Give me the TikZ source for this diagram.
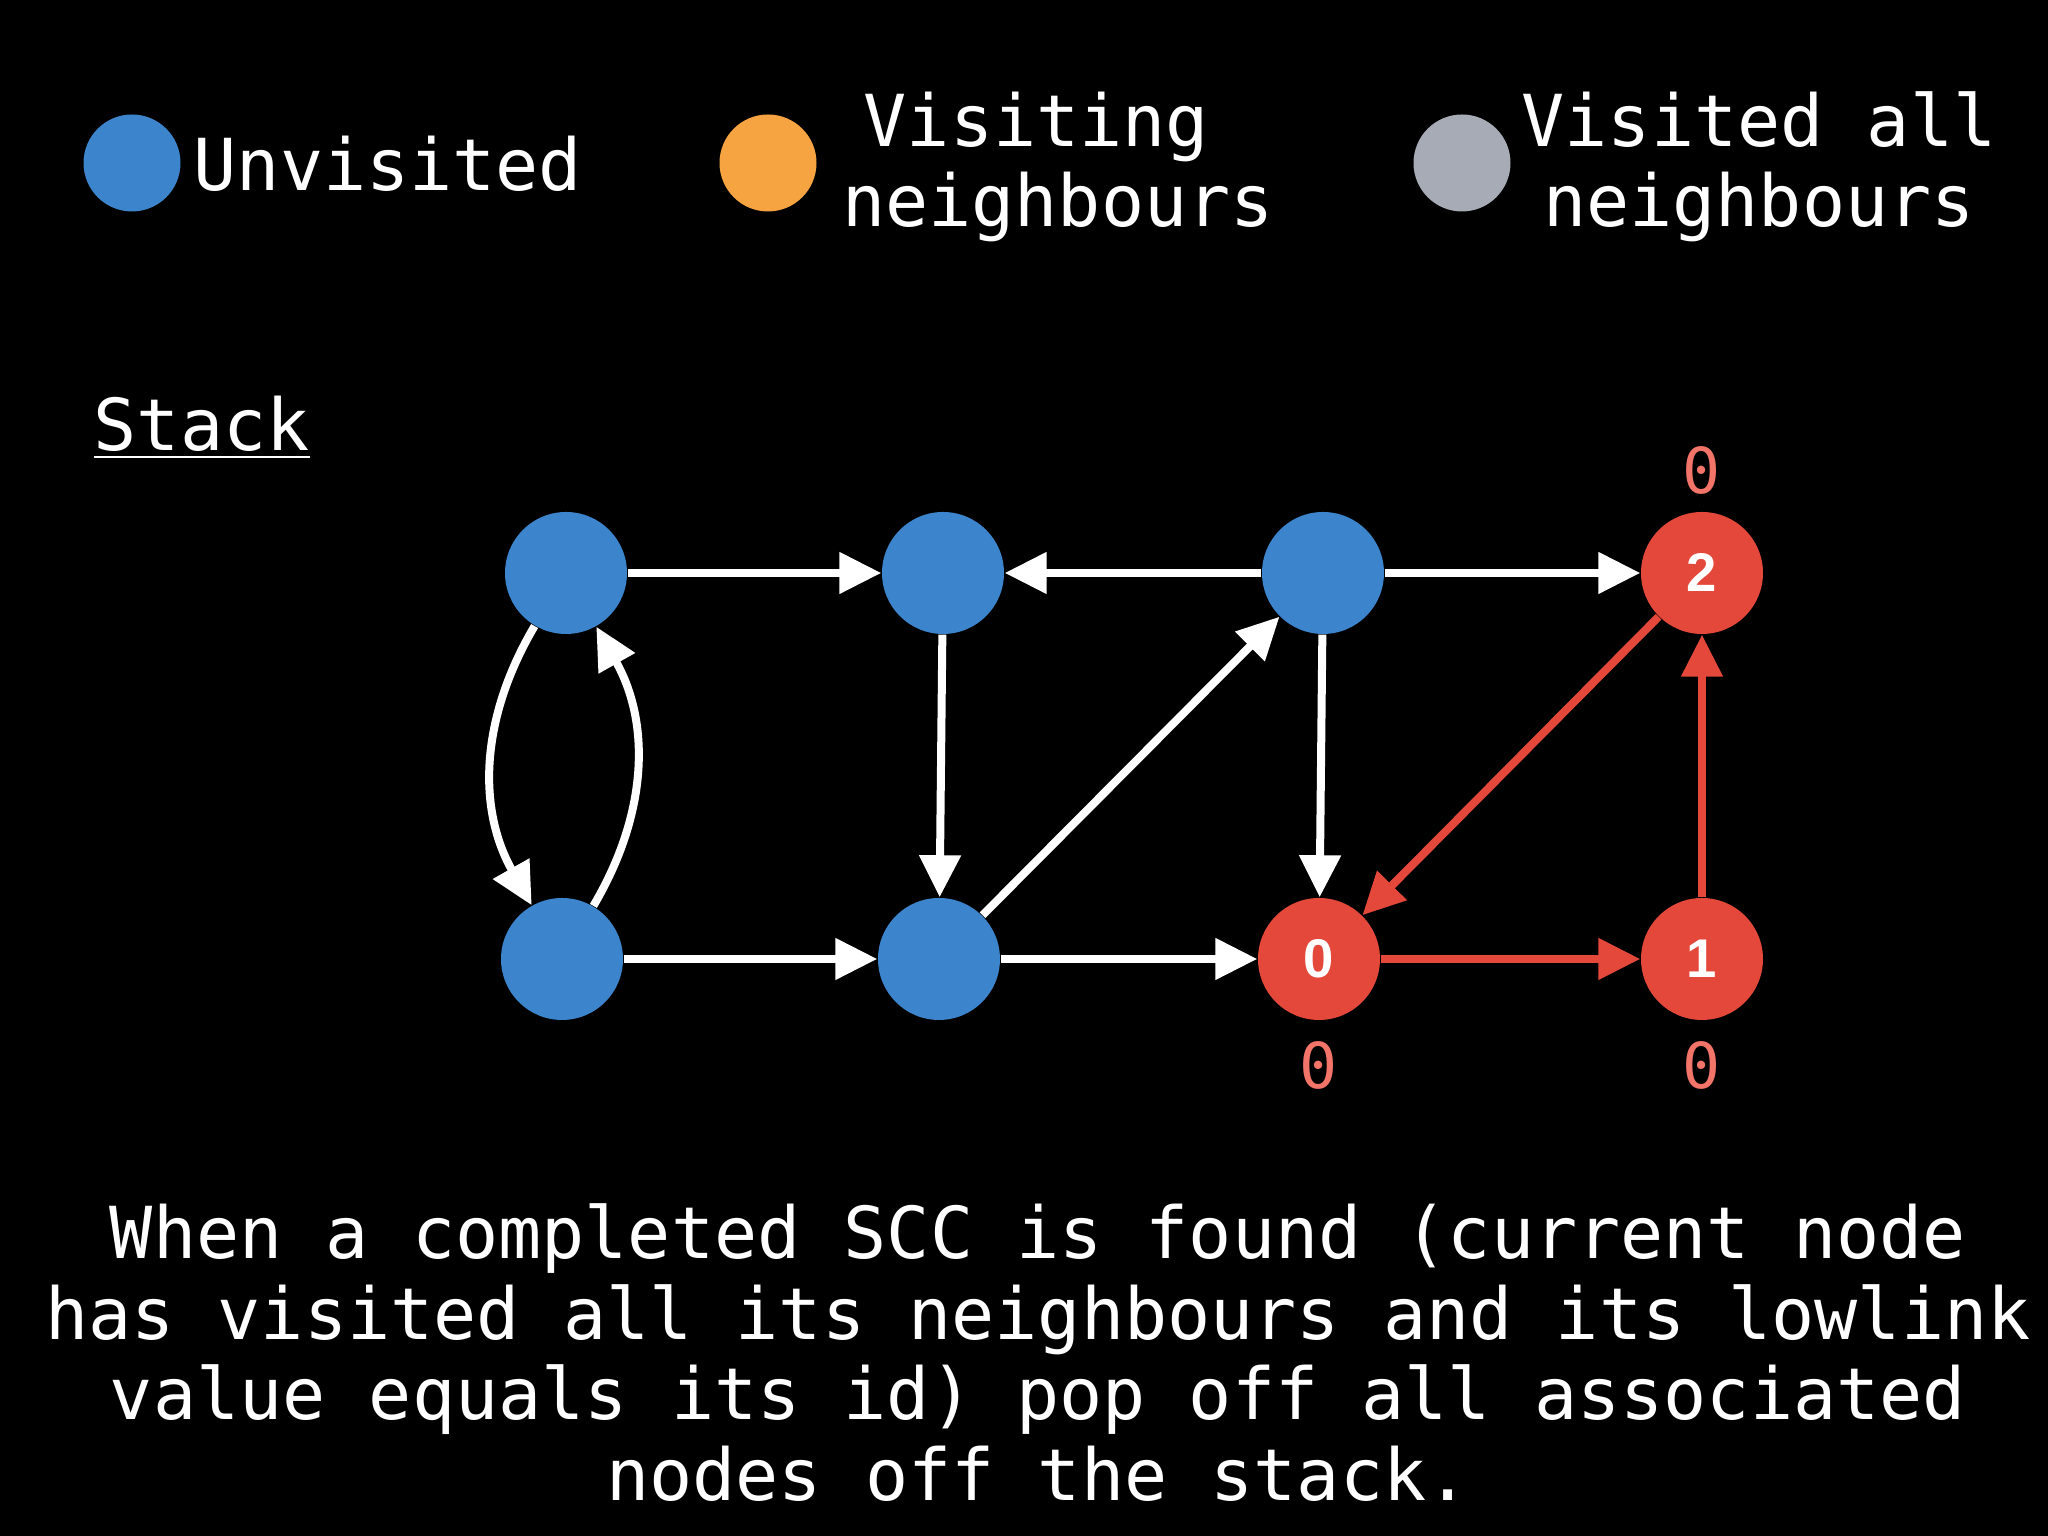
\documentclass[tikz,border=0pt]{standalone}
\usepackage{fontspec}
\setmonofont{DejaVu Sans Mono}
\newfontfamily\idfont{Liberation Sans}
\usetikzlibrary{arrows.meta}
\definecolor{unvisited}{HTML}{3C84CC}
\definecolor{visiting}{HTML}{F6A442}
\definecolor{visited}{HTML}{A6ABB5}
\definecolor{scc}{HTML}{E4483A}
\definecolor{lowlink}{HTML}{F37468}

\begin{document}
\begin{tikzpicture}[
  vert/.style={circle, minimum size=1.22cm, inner sep=0pt, text=white,
               font=\idfont\bfseries\fontsize{15.5}{17}\selectfont},
  legdot/.style={circle, minimum size=0.97cm, inner sep=0pt},
  txt/.style={text=white, inner sep=0pt, font=\ttfamily\fontsize{20.4}{22.9}\selectfont},
  low/.style={text=lowlink, inner sep=0pt, font=\ttfamily\fontsize{18}{20}\selectfont},
  arr/.style={-{Triangle[length=0.42cm, width=0.40cm]}, line width=0.08cm, white},
  sccarr/.style={arr, scc}
]
  \fill[black] (0,0) rectangle (20.48,15.36);
  \useasboundingbox (0,0) rectangle (20.48,15.36);

  % legend
  \node[legdot, fill=unvisited] (dotu) at (1.32, 13.73) {};
  \node[legdot, fill=visiting] (dotv) at (7.68, 13.73) {};
  \node[legdot, fill=visited] (dotd) at (14.62, 13.73) {};
  \node[txt, anchor=base west] (legu) at (1.93, 13.45) {Unvisited};
  \node[txt, align=center] (legv) at (10.58, 13.69) {Visiting\phantom{g}\\neighbours};
  \node[txt, align=center] (legd) at (17.59, 13.69) {Visited all\\neighbours};

  \node[txt, anchor=base west] (stack) at (0.93, 10.85) {\underline{Stack}};

  % graph
  \node[vert, fill=unvisited] (ua) at (5.66, 9.63) {};
  \node[vert, fill=unvisited] (ub) at (9.43, 9.63) {};
  \node[vert, fill=unvisited] (uc) at (13.23, 9.63) {};
  \node[vert, fill=scc] (v2) at (17.02, 9.63) {2};
  \node[vert, fill=unvisited] (ue) at (5.62, 5.77) {};
  \node[vert, fill=unvisited] (uf) at (9.39, 5.77) {};
  \node[vert, fill=scc] (v0) at (13.19, 5.77) {0};
  \node[vert, fill=scc] (v1) at (17.02, 5.77) {1};

  % low-link values
  \node[low] (low2) at (17.02, 10.66) {0};
  \node[low] (low0) at (13.19, 4.71) {0};
  \node[low] (low1) at (17.02, 4.71) {0};

  \draw[arr] (ua) -- (ub);
  \draw[arr] (uc) -- (ub);
  \draw[arr] (uc) -- (v2);
  \draw[arr] (ua) to[bend right=30] (ue);
  \draw[arr] (ue) to[bend right=30] (ua);
  \draw[arr] (ub) -- (uf);
  \draw[arr] (uf) -- (uc);
  \draw[arr] (ue) -- (uf);
  \draw[arr] (uf) -- (v0);
  \draw[arr] (uc) -- (v0);
  \draw[sccarr] (v2) -- (v0);
  \draw[sccarr] (v0) -- (v1);
  \draw[sccarr] (v1) -- (v2);

  \node[txt, align=center, anchor=south] (note) at (10.38, 0.34)
    {When a completed SCC is found (current node\\has visited all its neighbours and its lowlink\\value equals its id) pop off all associated\\nodes off the stack.};
\end{tikzpicture}
\end{document}
